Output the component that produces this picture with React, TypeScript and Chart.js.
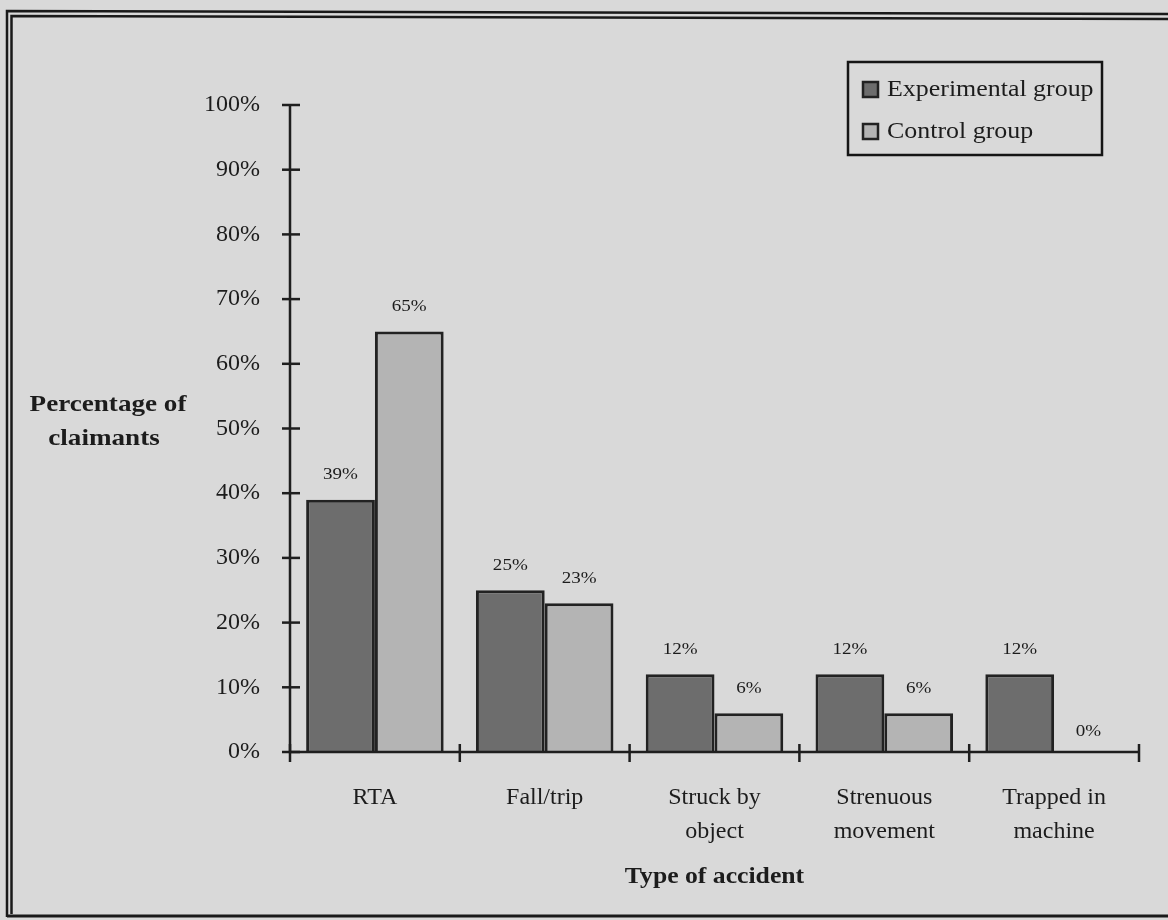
import React, { useEffect, useRef } from "react";
import { Chart, registerables } from "chart.js";

Chart.register(...registerables);

const categories: string[][] = [
  ["RTA"],
  ["Fall/trip"],
  ["Struck by", "object"],
  ["Strenuous", "movement"],
  ["Trapped in", "machine"],
];
const experimentalValues = [39, 25, 12, 12, 12];
const controlValues = [65, 23, 6, 6, 0];
const seriesLabels = ["Experimental group", "Control group"];
const yAxisTitle = ["Percentage of", "claimants"];
const xAxisTitle = "Type of accident";

const FONT = "'Liberation Serif', 'Times New Roman', serif";
const BG = "#d9d9d9";
const INK = "#1c1c1c";
const DARK_FILL = "#6d6d6d";
const LIGHT_FILL = "#b4b4b4";

function stretchedText(ctx: any, text: string, x: number, y: number, sx: number) {
  ctx.save();
  ctx.translate(x, y);
  ctx.scale(sx, 1);
  ctx.fillText(text, 0, 0);
  ctx.restore();
}

const decorPlugin = {
  id: "decor",
  beforeDraw(chart: any) {
    const ctx = chart.ctx;
    ctx.save();
    ctx.fillStyle = BG;
    ctx.fillRect(0, 0, chart.width, chart.height);
    // double frame
    ctx.strokeStyle = "#1a1a1a";
    ctx.lineWidth = 2.5;
    ctx.beginPath();
    ctx.moveTo(7, 917);
    ctx.lineTo(7, 11);
    ctx.lineTo(chart.width, 14);
    ctx.stroke();
    ctx.beginPath();
    ctx.moveTo(11.5, 914);
    ctx.lineTo(11.5, 16);
    ctx.lineTo(chart.width, 19);
    ctx.stroke();
    ctx.lineWidth = 3;
    ctx.beginPath();
    ctx.moveTo(7, 916);
    ctx.lineTo(chart.width, 916);
    ctx.stroke();
    ctx.restore();
  },
  afterDatasetsDraw(chart: any) {
    const ctx = chart.ctx;
    const xs = chart.scales.x;
    const ys = chart.scales.y;
    const area = chart.chartArea;
    ctx.save();
    ctx.strokeStyle = "#1e1e1e";
    ctx.lineWidth = 2.5;
    // axes
    ctx.beginPath();
    ctx.moveTo(area.left, ys.getPixelForValue(100));
    ctx.lineTo(area.left, ys.getPixelForValue(0));
    ctx.lineTo(area.right, ys.getPixelForValue(0));
    ctx.stroke();
    // y ticks
    ys.ticks.forEach((t: any) => {
      const y = ys.getPixelForValue(t.value);
      ctx.beginPath();
      ctx.moveTo(area.left - 8, y);
      ctx.lineTo(area.left + 10, y);
      ctx.stroke();
    });
    // x ticks at category boundaries
    const n = categories.length;
    const step = (xs.getPixelForValue(n - 1) - xs.getPixelForValue(0)) / (n - 1);
    const y0 = ys.getPixelForValue(0);
    for (let i = 0; i <= n; i++) {
      const x = xs.getPixelForValue(0) - step / 2 + i * step;
      ctx.beginPath();
      ctx.moveTo(x, y0 - 8);
      ctx.lineTo(x, y0 + 10);
      ctx.stroke();
    }
    // data labels
    ctx.fillStyle = INK;
    ctx.font = `17px ${FONT}`;
    ctx.textAlign = "center";
    ctx.textBaseline = "middle";
    chart.data.datasets.forEach((ds: any, di: number) => {
      const meta = chart.getDatasetMeta(di);
      meta.data.forEach((bar: any, i: number) => {
        const v = ds.data[i];
        const off = v === 0 ? 20 : 25;
        stretchedText(ctx, `${v}%`, bar.x, bar.y - off, 1.12);
      });
    });
    // y axis title
    ctx.font = `bold 24px ${FONT}`;
    stretchedText(ctx, yAxisTitle[0], 108, 405, 1.13);
    stretchedText(ctx, yAxisTitle[1], 104, 439, 1.13);
    // x axis title
    stretchedText(ctx, xAxisTitle, (area.left + area.right) / 2, 877, 1.07);
    // legend
    const lx = 848, ly = 62, lw = 254, lh = 93;
    ctx.lineWidth = 2.5;
    ctx.strokeStyle = "#151515";
    ctx.strokeRect(lx, ly, lw, lh);
    const fills = [DARK_FILL, LIGHT_FILL];
    const rowY = [90, 132];
    ctx.font = `24px ${FONT}`;
    ctx.textAlign = "left";
    seriesLabels.forEach((lab, i) => {
      ctx.fillStyle = fills[i];
      ctx.fillRect(863, rowY[i] - 8, 15, 15);
      ctx.lineWidth = 2.5;
      ctx.strokeStyle = "#222";
      ctx.strokeRect(863, rowY[i] - 8, 15, 15);
      ctx.fillStyle = INK;
      stretchedText(ctx, lab, 887, rowY[i], 1.08);
    });
    ctx.restore();
  },
};

export default function App() {
  const canvasRef = useRef<HTMLCanvasElement | null>(null);

  useEffect(() => {
    if (!canvasRef.current) return;
    const chart = new Chart(canvasRef.current, {
      type: "bar",
      data: {
        labels: categories as any,
        datasets: [
          {
            label: seriesLabels[0],
            data: experimentalValues,
            backgroundColor: DARK_FILL,
            borderColor: "#222222",
            borderWidth: 3,
            borderSkipped: "bottom",
          },
          {
            label: seriesLabels[1],
            data: controlValues,
            backgroundColor: LIGHT_FILL,
            borderColor: "#222222",
            borderWidth: 3,
            borderSkipped: "bottom",
          },
        ],
      },
      options: {
        animation: false,
        responsive: false,
        maintainAspectRatio: false,
        events: [],
        layout: { padding: { left: 0, right: 29, top: 105, bottom: 0 } },
        plugins: {
          legend: { display: false },
          tooltip: { enabled: false },
          title: { display: false },
        },
        datasets: {
          bar: { categoryPercentage: 0.81, barPercentage: 1 },
        },
        scales: {
          x: {
            grid: { display: false, drawTicks: false },
            border: { display: false },
            ticks: {
              color: INK,
              font: { family: FONT, size: 24, lineHeight: 1.45 },
              padding: 28,
              maxRotation: 0,
              autoSkip: false,
            },
            afterFit: (s: any) => {
              s.height = 168;
            },
          },
          y: {
            min: 0,
            max: 100,
            grid: { display: false, drawTicks: false },
            border: { display: false },
            ticks: {
              stepSize: 10,
              color: INK,
              font: { family: FONT, size: 24 },
              padding: 30,
              callback: (v: any) => `${v}%`,
            },
            afterFit: (s: any) => {
              s.width = 290;
            },
          },
        },
      },
      plugins: [decorPlugin],
    });
    return () => chart.destroy();
  }, []);

  return (
    <div style={{ position: "fixed", left: 0, top: 0, width: 1168, height: 920, background: BG }}>
      <canvas ref={canvasRef} width={1168} height={920} style={{ display: "block" }} />
    </div>
  );
}
